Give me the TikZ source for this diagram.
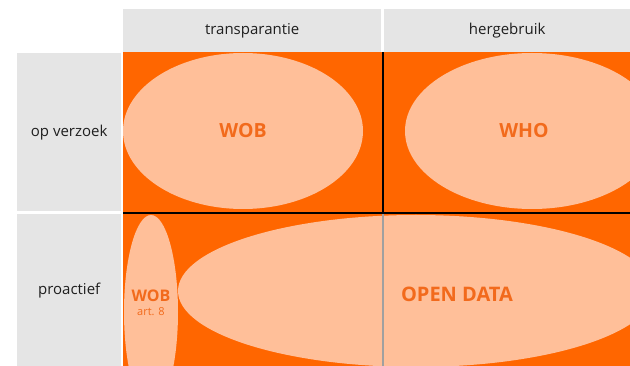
\documentclass[tikz,border=0pt]{standalone}
\usepackage{fontspec}
\setmainfont{Open Sans}
\usetikzlibrary{shapes.geometric}
\definecolor{orng}{RGB}{255,102,0}
\definecolor{peach}{RGB}{255,191,153}
\definecolor{lbl}{RGB}{242,106,28}
\definecolor{cellgray}{RGB}{229,229,229}
\definecolor{sepgray}{RGB}{160,160,160}
\begin{document}
\begin{tikzpicture}[x=1pt,y=-1pt,
  cell/.style={fill=cellgray, inner sep=0pt, anchor=north west, text=black!88,
    font=\fontsize{15}{17}\selectfont},
  blob/.style={ellipse, fill=peach, inner sep=0pt},
  biglbl/.style={text=lbl, font=\fontsize{19.5}{22}\selectfont\bfseries, inner sep=0pt},
  smlbl/.style={text=lbl, font=\fontsize{16}{18}\selectfont\bfseries, inner sep=0pt},
  sublbl/.style={text=lbl, font=\fontsize{11}{13}\selectfont, inner sep=0pt},
  gridline/.style={line width=2pt, black},
  softline/.style={line width=2pt, sepgray}]
\useasboundingbox (0,0) rectangle (630,366);
\fill[white] (0,0) rectangle (630,366);
% header and row cells
\node[cell, minimum width=258pt, minimum height=43pt] (h1) at (123,9) {transparantie};
\node[cell, minimum width=246pt, minimum height=43pt] (h2) at (384,9) {hergebruik};
\node[cell, minimum width=104pt, minimum height=158pt] (r1) at (17,53) {op verzoek};
\node[cell, minimum width=104pt, minimum height=152pt] (r2) at (17,214) {proactief};
% orange field
\fill[orng] (123,52) rectangle (630,366);
\begin{scope}
  \clip (123,52) rectangle (630,366);
  \node[blob, minimum width=240pt, minimum height=156pt] (wobE) at (243,131) {};
  \node[blob, minimum width=254pt, minimum height=156pt] (whoE) at (532,131) {};
  \node[blob, minimum width=54pt, minimum height=194pt] (wob8E) at (151,312) {};
  \node[blob, minimum width=476pt, minimum height=152pt] (odE) at (416,291) {};
\end{scope}
% grid lines
\draw[gridline] (123,213) -- (630,213);
\draw[gridline] (383,52) -- (383,213);
\draw[softline] (383,214) -- (383,366);
% labels
\node[biglbl] (wob) at (243,131) {WOB};
\node[biglbl] (who) at (524,131) {WHO};
\node[biglbl, font=\fontsize{20}{22}\selectfont\bfseries] (od) at (457,294) {OPEN DATA};
\node[smlbl] (wob8) at (151,296) {WOB};
\node[sublbl] (art8) at (151,312) {art. 8};
\end{tikzpicture}
\end{document}
